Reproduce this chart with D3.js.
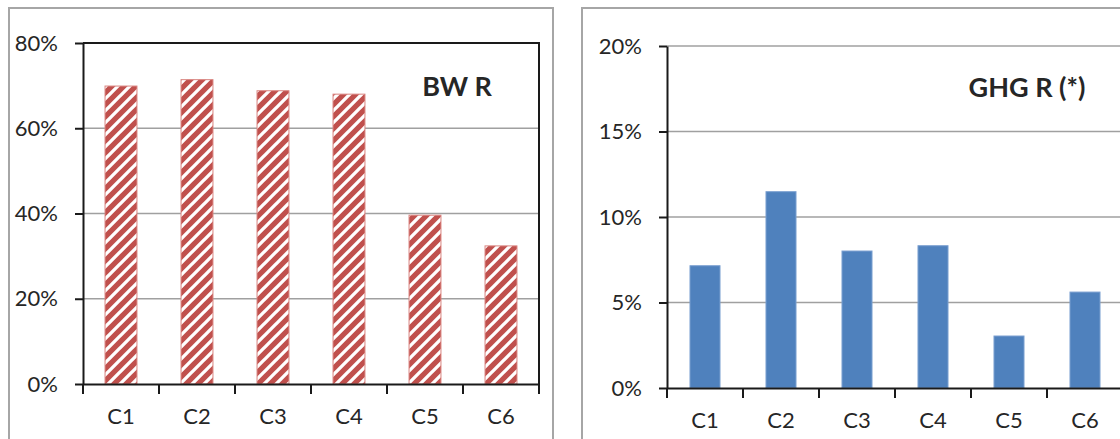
<!DOCTYPE html>
<html>
<head>
<meta charset="utf-8">
<script src="https://cdn.jsdelivr.net/npm/d3@7/dist/d3.min.js"></script>
<style>
  html, body { margin: 0; padding: 0; background: #fff; }
  svg { display: block; }
  text { font-family: Lato, "Open Sans", sans-serif; fill: #262626; }
</style>
</head>
<body>
<svg id="chart" width="1120" height="439"></svg>
<script>
// Scenario labels shared by both panels
const categories = ["C1", "C2", "C3", "C4", "C5", "C6"];

// BW R shares per scenario
const bwValues = [0.699, 0.714, 0.688, 0.680, 0.396, 0.324];
const bwTicks = [0, 0.2, 0.4, 0.6, 0.8];

// GHG R shares per scenario
const ghgValues = [0.0715, 0.1148, 0.0801, 0.0832, 0.0304, 0.0561];
const ghgTicks = [0, 0.05, 0.10, 0.15, 0.20];

const svg = d3.select("#chart");
const fmt = d3.format(".0%");

// Wide upward diagonal hatch used for the BW R bars
const P = 12;
const defs = svg.append("defs");
const pat = defs.append("pattern")
  .attr("id", "hatch")
  .attr("patternUnits", "userSpaceOnUse")
  .attr("width", P).attr("height", P);
pat.append("rect").attr("width", P).attr("height", P).attr("fill", "#c0504d");
pat.append("path")
  .attr("d", `M-3,3 L3,-3 M0,${P} L${P},0 M${P - 3},${P + 3} L${P + 3},${P - 3}`)
  .attr("stroke", "#ffffff").attr("stroke-width", 3.3);

function panel(cfg) {
  const g = svg.append("g");

  // outer chart frame
  g.append("rect")
    .attr("x", cfg.frame[0]).attr("y", cfg.frame[1])
    .attr("width", cfg.frame[2]).attr("height", cfg.frame[3])
    .attr("fill", "#fff").attr("stroke", "#a6a6a6").attr("stroke-width", 2);

  const x = d3.scaleBand().domain(categories)
    .range([cfg.left, cfg.right])
    .paddingInner(cfg.pad).paddingOuter(cfg.pad / 2);
  const y = d3.scaleLinear().domain(cfg.domain).range([cfg.bottom, cfg.top]);

  // horizontal gridlines
  g.append("g").selectAll("line")
    .data(cfg.ticks.filter(t => t > 0))
    .join("line")
    .attr("x1", cfg.left).attr("x2", Math.min(cfg.right, 1122))
    .attr("y1", d => y(d)).attr("y2", d => y(d))
    .attr("stroke", "#a0a0a0").attr("stroke-width", 1.6);

  if (cfg.plotBorder) {
    g.append("path")
      .attr("d", `M${cfg.left},${y(cfg.domain[1])} H${cfg.right} V${cfg.bottom}`)
      .attr("fill", "none").attr("stroke", "#1a1a1a").attr("stroke-width", 2);
  }

  // bars
  g.append("g").selectAll("rect")
    .data(cfg.values)
    .join("rect")
    .attr("x", (d, i) => x(categories[i]))
    .attr("width", x.bandwidth())
    .attr("y", d => y(d))
    .attr("height", d => y(0) - y(d))
    .attr("fill", cfg.fill)
    .attr("stroke", cfg.edge).attr("stroke-width", 1);

  // y axis
  const ya = g.append("g")
    .attr("transform", `translate(${cfg.left},0)`)
    .call(d3.axisLeft(y).tickValues(cfg.ticks).tickFormat(fmt)
      .tickSize(8).tickPadding(17).tickSizeOuter(0));
  ya.select(".domain").attr("stroke", "#1a1a1a").attr("stroke-width", 2);
  ya.selectAll(".tick line").attr("stroke", "#1a1a1a").attr("stroke-width", 2);
  ya.selectAll(".tick text")
    .attr("font-size", 22).attr("fill", "#262626")
    .style("font-family", "Lato, sans-serif");

  // x axis with ticks on category boundaries
  const xa = g.append("g")
    .attr("transform", `translate(0,${cfg.bottom})`)
    .call(d3.axisBottom(x).tickSize(0).tickPadding(24));
  xa.select(".domain").attr("stroke", "#1a1a1a").attr("stroke-width", 2);
  xa.selectAll(".tick text")
    .attr("font-size", 22).attr("fill", "#262626")
    .style("font-family", "Lato, sans-serif");
  const bounds = d3.range(categories.length + 1)
    .map(i => cfg.left + i * x.step());
  xa.selectAll("line.bound")
    .data(bounds)
    .join("line").attr("class", "bound")
    .attr("x1", d => d).attr("x2", d => d)
    .attr("y1", 0).attr("y2", 10)
    .attr("stroke", "#1a1a1a").attr("stroke-width", 2);

  // panel title
  g.append("text")
    .attr("x", cfg.title[1]).attr("y", cfg.title[2])
    .attr("text-anchor", "middle")
    .attr("font-size", 27).attr("font-weight", "bold")
    .attr("fill", "#141414")
    .text(cfg.title[0]);
}

panel({
  frame: [9, 8, 544, 440],
  left: 83, right: 539, top: 43, bottom: 384,
  domain: [0, 0.8], ticks: bwTicks, values: bwValues,
  pad: 0.58, fill: "url(#hatch)", edge: "#d9837f",
  plotBorder: true,
  title: ["BW R", 457, 96]
});

panel({
  frame: [582, 8, 560, 440],
  left: 667, right: 1123, top: 46, bottom: 388,
  domain: [0, 0.2], ticks: ghgTicks, values: ghgValues,
  pad: 0.605, fill: "#4f81bd", edge: "#7a9fd0",
  plotBorder: false,
  title: ["GHG R (*)", 1027, 97]
});
</script>
</body>
</html>
